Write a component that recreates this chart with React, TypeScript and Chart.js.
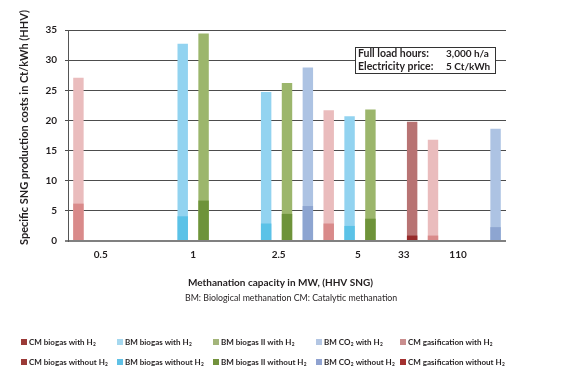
import React, { useEffect, useRef } from 'react';
import { Chart, registerables } from 'chart.js';

Chart.register(...registerables);

// ---- data ----
const capacityLabels = ['0.5', '1', '2.5', '5', '33', '110'];
const slotCount = 21;
const _ = null;
// 21 bar slots along the x axis (null = no bar)
const cmBiogasWithH2 =        [_, _, _, _, _, _, _, _, _, _, _, _, _, _, _, _, 19.8, _, _, _, _];
const cmBiogasWithoutH2 =     [_, _, _, _, _, _, _, _, _, _, _, _, _, _, _, _, 0.9, _, _, _, _];
const bmBiogasWithH2 =        [_, _, _, _, _, 32.7, _, _, _, 24.7, _, _, _, 20.7, _, _, _, _, _, _, _];
const bmBiogasWithoutH2 =     [_, _, _, _, _, 4.1, _, _, _, 2.9, _, _, _, 2.5, _, _, _, _, _, _, _];
const bmBiogas2WithH2 =       [_, _, _, _, _, _, 34.4, _, _, _, 26.2, _, _, _, 21.8, _, _, _, _, _, _];
const bmBiogas2WithoutH2 =    [_, _, _, _, _, _, 6.7, _, _, _, 4.5, _, _, _, 3.7, _, _, _, _, _, _];
const bmCo2WithH2 =           [_, _, _, _, _, _, _, _, _, _, _, 28.8, _, _, _, _, _, _, _, _, 18.6];
const bmCo2WithoutH2 =        [_, _, _, _, _, _, _, _, _, _, _, 5.8, _, _, _, _, _, _, _, _, 2.3];
const cmGasificationWithH2 =  [27.1, _, _, _, _, _, _, _, _, _, _, _, 21.7, _, _, _, _, 16.8, _, _, _];
const cmGasificationWithoutH2 = [6.2, _, _, _, _, _, _, _, _, _, _, _, 2.9, _, _, _, _, 0.9, _, _, _];

const seriesNames = ['CM biogas', 'BM biogas', 'BM biogas II', 'BM CO₂', 'CM gasification'];
const withData = [cmBiogasWithH2, bmBiogasWithH2, bmBiogas2WithH2, bmCo2WithH2, cmGasificationWithH2];
const withoutData = [cmBiogasWithoutH2, bmBiogasWithoutH2, bmBiogas2WithoutH2, bmCo2WithoutH2, cmGasificationWithoutH2];

// ---- styles / layout ----
const FONT = 'Lato, "Open Sans", sans-serif';
const TEXT = '#231f20';
const barWithColors = ['#b87373', '#92d3f0', '#9cb66c', '#adc3e3', '#eabcbd'];
const barWithoutColors = ['#962a2a', '#5bc2e7', '#6e933a', '#8da5d1', '#d98a8a'];
const legendWithColors = ['#9a3a37', '#a5d8ef', '#a3b57a', '#b3c6e3', '#c98e8e'];
const legendWithoutColors = ['#9a3a37', '#5fc1e6', '#72923c', '#8fa2d0', '#a3302f'];
const tickSlotPositions = [1.07, 5.5, 9.6, 13.4, 15.6, 18.2];
const legendColumnsX = [21, 117, 213, 316, 400];
const legendRowsY = [342, 362];

// draw text where "₂" is rendered as a small lowered 2
function drawSubText(ctx: CanvasRenderingContext2D, text: string, x: number, y: number, size: number) {
  const parts = text.split('₂');
  let cx = x;
  parts.forEach((p, idx) => {
    ctx.font = `bold ${size}px ${FONT}`;
    ctx.fillText(p, cx, y);
    cx += ctx.measureText(p).width;
    if (idx < parts.length - 1) {
      ctx.font = `bold ${size * 0.6}px ${FONT}`;
      ctx.fillText('2', cx + 0.3, y + 2.2);
      cx += ctx.measureText('2').width + 0.5;
    }
  });
}

const overlayPlugin = {
  id: 'overlay',
  afterDraw(chart: any) {
    const ctx = chart.ctx as CanvasRenderingContext2D;
    const xScale = chart.scales.x;
    ctx.save();
    ctx.fillStyle = TEXT;

    // x tick labels (placed on the category scale)
    ctx.font = `bold 10px ${FONT}`;
    ctx.textAlign = 'center';
    ctx.textBaseline = 'middle';
    capacityLabels.forEach((lab, i) => {
      ctx.fillText(lab, xScale.getPixelForValue(tickSlotPositions[i]), 255);
    });

    // y title
    ctx.font = `bold 11px ${FONT}`;
    ctx.save();
    ctx.translate(24, 127.5);
    ctx.rotate(-Math.PI / 2);
    ctx.fillText('Specific SNG production costs in Ct/kWh (HHV)', 0, 0);
    ctx.restore();

    // x title + subtitle
    ctx.textAlign = 'left';
    ctx.font = `bold 10px ${FONT}`;
    ctx.fillText('Methanation capacity in MW, (HHV SNG)', 188, 283);
    ctx.font = `8.8px ${FONT}`;
    ctx.fillText('BM: Biological methanation CM: Catalytic methanation', 185, 298);

    // info box
    ctx.fillStyle = '#ffffff';
    ctx.fillRect(355.5, 47.5, 140, 26);
    ctx.strokeStyle = '#333333';
    ctx.lineWidth = 1;
    ctx.strokeRect(355.5, 47.5, 140, 26);
    ctx.fillStyle = TEXT;
    ctx.font = `bold 10.5px ${FONT}`;
    ctx.fillText('Full load hours:', 358, 54);
    ctx.fillText('Electricity price:', 358, 67);
    ctx.font = `bold 10px ${FONT}`;
    ctx.fillText('3,000 h/a', 446, 54);
    ctx.fillText('5 Ct/kWh', 446, 67);

    // legend
    seriesNames.forEach((name, i) => {
      [0, 1].forEach((r) => {
        const x = legendColumnsX[i];
        const y = legendRowsY[r];
        ctx.fillStyle = r === 0 ? legendWithColors[i] : legendWithoutColors[i];
        ctx.fillRect(x, y - 3, 6, 6);
        ctx.fillStyle = TEXT;
        drawSubText(ctx, `${name} ${r === 0 ? 'with' : 'without'} H₂`, x + 8, y, 8);
      });
    });
    ctx.restore();
  },
};

export default function App() {
  const ref = useRef<HTMLCanvasElement>(null);

  useEffect(() => {
    if (!ref.current) return;
    const datasets: any[] = [];
    seriesNames.forEach((name, i) => {
      datasets.push({
        label: `${name} with H₂`,
        data: withData[i],
        backgroundColor: barWithColors[i],
        order: 1,
        barPercentage: 0.5,
        categoryPercentage: 1,
      });
      datasets.push({
        label: `${name} without H₂`,
        data: withoutData[i],
        backgroundColor: barWithoutColors[i],
        order: 0,
        barPercentage: 0.5,
        categoryPercentage: 1,
      });
    });

    const chart = new Chart(ref.current, {
      type: 'bar',
      data: {
        labels: Array.from({ length: slotCount }, (_v, i) => String(i)),
        datasets,
      },
      options: {
        animation: false,
        responsive: false,
        layout: { padding: { left: 0, right: 61, top: 30, bottom: 150 } },
        plugins: { legend: { display: false }, tooltip: { enabled: false } },
        scales: {
          x: { type: 'category', stacked: true, display: false },
          y: {
            stacked: false,
            min: 0,
            max: 35,
            afterFit: (scale: any) => {
              scale.width = 68;
            },
            ticks: {
              stepSize: 5,
              padding: 8,
              color: TEXT,
              font: { family: FONT, size: 10, weight: 'bold' },
            },
            grid: {
              color: (c: any) => (c.tick && c.tick.value === 0 ? '#808080' : '#4d4d4d'),
              lineWidth: (c: any) => (c.tick && c.tick.value === 0 ? 2 : 1),
              tickLength: 3,
              drawTicks: true,
            },
            border: { display: true, color: '#555555', width: 1 },
          },
        },
      },
      plugins: [overlayPlugin],
    } as any);
    return () => chart.destroy();
  }, []);

  return (
    <div style={{ position: 'absolute', left: 0, top: 0, width: 567, height: 391, background: '#fff' }}>
      <canvas ref={ref} width={567} height={391} />
    </div>
  );
}
